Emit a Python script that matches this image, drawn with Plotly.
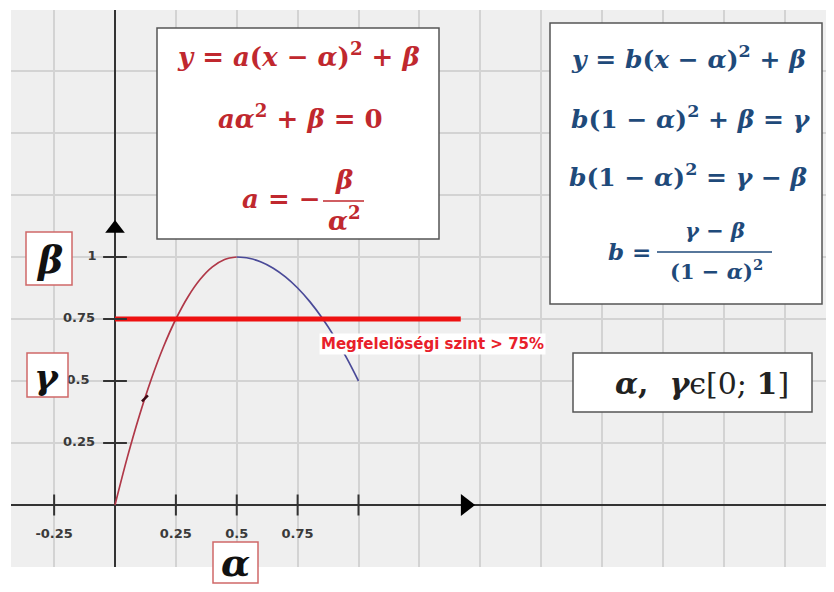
import plotly.graph_objects as go

# parabola data (vertex alpha, beta; end value gamma at x = 1)
alpha = 0.5
beta = 1
gamma = 0.5
threshold = 0.75

# left branch: y = a(x - alpha)^2 + beta through the origin
red_x = [0, 0.05, 0.1, 0.15, 0.2, 0.25, 0.3, 0.35, 0.4, 0.45, 0.5]
red_y = [0, 0.19, 0.36, 0.51, 0.64, 0.75, 0.84, 0.91, 0.96, 0.99, 1.0]

# right branch: y = b(x - alpha)^2 + beta ending at (1, gamma)
blue_x = [0.5, 0.55, 0.6, 0.65, 0.7, 0.75, 0.8, 0.85, 0.9, 0.95, 1.0]
blue_y = [1.0, 0.995, 0.98, 0.955, 0.92, 0.875, 0.82, 0.755, 0.68, 0.595, 0.5]

# threshold line
level_x = [0, 1.42]
level_y = [threshold, threshold]

x_ticks = [-0.25, 0.25, 0.5, 0.75, 1]
x_tick_labels = ['-0.25', '0.25', '0.5', '0.75', '']
y_ticks = [0.25, 0.5, 0.75, 1]
y_tick_labels = ['0.25', '0.5', '0.75', '1']

# the page body has an 8px margin, so the figure is drawn 8px smaller
OFF = 8
W, H = 834 - OFF, 592 - 2 * OFF
L, T = 11 - OFF, 10 - OFF
B = H - (567 - OFF)


def px(p):
    return (p - OFF - L) / (W - L)


def py(p):
    return (H - B - (p - OFF)) / (H - B - T)


serif = 'DejaVu Serif'
red_txt = '#c0282e'
blue_txt = '#1f4a7a'

fig = go.Figure()

fig.add_trace(go.Scatter(x=red_x, y=red_y, mode='lines', line_shape='spline',
                         line=dict(color='#b03848', width=1.7)))
fig.add_trace(go.Scatter(x=blue_x, y=blue_y, mode='lines', line_shape='spline',
                         line=dict(color='#4a4a98', width=1.7)))
fig.add_trace(go.Scatter(x=level_x, y=level_y, mode='lines',
                         line=dict(color='#ee1111', width=5)))
# small mark on the red branch
fig.add_trace(go.Scatter(x=[0.123], y=[0.43], mode='markers',
                         marker=dict(symbol='line-ne', size=6,
                                     line=dict(color='#3a0a14', width=2.5))))

# axis ticks
fig.add_trace(go.Scatter(x=x_ticks, y=[0] * len(x_ticks), mode='markers',
                         marker=dict(symbol='line-ns', size=15,
                                     line=dict(color='#333', width=2))))
fig.add_trace(go.Scatter(x=[0] * len(y_ticks), y=y_ticks, mode='markers',
                         marker=dict(symbol='line-ew', size=17,
                                     line=dict(color='#333', width=2))))
# arrow heads
fig.add_trace(go.Scatter(x=[0], y=[1.115], mode='markers',
                         marker=dict(symbol='triangle-up', size=17, color='black')))
fig.add_trace(go.Scatter(x=[1.44], y=[0], mode='markers',
                         marker=dict(symbol='triangle-right', size=19, color='black')))

# tick labels
fig.add_trace(go.Scatter(x=x_ticks, y=[-0.12] * len(x_ticks), mode='text',
                         text=x_tick_labels, textposition='middle center',
                         textfont=dict(family='DejaVu Sans', size=13, color='#3a3a3a', weight='bold')))
fig.add_trace(go.Scatter(x=[-0.148, -0.152, -0.148, -0.094], y=y_ticks, mode='text',
                         text=y_tick_labels, textposition='middle center',
                         textfont=dict(family='DejaVu Sans', size=13, color='#3a3a3a', weight='bold')))

shapes = []


def box(x0, y0, x1, y1, color, width=1.5):
    shapes.append(dict(type='rect', xref='paper', yref='paper',
                       x0=px(x0), x1=px(x1), y0=py(y1), y1=py(y0),
                       fillcolor='white', line=dict(color=color, width=width)))


def bar(x0, x1, y, color):
    shapes.append(dict(type='line', xref='paper', yref='paper',
                       x0=px(x0), x1=px(x1), y0=py(y), y1=py(y),
                       line=dict(color=color, width=1.5)))


box(157, 28, 439, 239, '#555')
box(550, 23, 822, 304, '#555')
box(573, 353, 812, 412, '#555')
box(26, 232, 72, 285, '#d06868')
box(27, 353, 68, 397, '#d06868')
box(213, 542, 258, 583, '#d06868')
bar(323, 364, 201, red_txt)
bar(657, 772, 252, blue_txt)

annotations = []


def txt(s, x, y, size, color, family=serif, bg=None):
    a = dict(text=s, xref='paper', yref='paper', x=px(x), y=py(y),
             xanchor='center', yanchor='middle', showarrow=False,
             font=dict(family=family, size=size, color=color))
    if bg:
        a['bgcolor'] = bg
    annotations.append(a)


txt('<b><i>y</i> = <i>a</i>(<i>x</i> − <i>α</i>)<sup>2</sup> + <i>β</i></b>', 298, 55, 26, red_txt)
txt('<b><i>aα</i><sup>2</sup> + <i>β</i> = 0</b>', 300, 117, 26, red_txt)
txt('<b><i>a</i> = −</b>', 281, 199, 26, red_txt)
txt('<b><i>β</i></b>', 344, 180, 26, red_txt)
txt('<b><i>α</i><sup>2</sup></b>', 344, 219, 26, red_txt)

txt('<b><i>y</i> = <i>b</i>(<i>x</i> − <i>α</i>)<sup>2</sup> + <i>β</i></b>', 688, 57, 25, blue_txt)
txt('<b><i>b</i>(1 − <i>α</i>)<sup>2</sup> + <i>β</i> = <i>γ</i></b>', 691, 118, 25, blue_txt)
txt('<b><i>b</i>(1 − <i>α</i>)<sup>2</sup> = <i>γ</i> − <i>β</i></b>', 688, 175, 25, blue_txt)
txt('<b><i>b</i> =</b>', 629, 251, 23, blue_txt)
txt('<b><i>γ</i> − <i>β</i></b>', 715, 230, 21, blue_txt)
txt('<b>(1 − <i>α</i>)<sup>2</sup></b>', 716, 270, 21, blue_txt)

txt('<b><i>α</i>,\u00a0\u00a0<i>γ</i></b>ϵ[0; <b>1</b>]', 702, 383, 30, '#222')

txt('<b><i>β</i></b>', 49, 259, 38, '#111')
txt('<b><i>γ</i></b>', 47, 376, 36, '#111')
txt('<b><i>α</i></b>', 235, 562, 38, '#111')

txt('<b>Megfelelöségi szint &gt; 75%</b>', 432, 344, 15, '#e8202a', family='DejaVu Sans', bg='white')

grid = dict(showgrid=True, gridcolor='#d3d3d3', gridwidth=1.5, dtick=0.25, tick0=0,
            zeroline=True, zerolinecolor='#333', zerolinewidth=2,
            showticklabels=False, ticks='', showline=False, fixedrange=True)

fig.update_layout(
    width=W, height=H,
    margin=dict(l=L, r=0, t=T, b=B),
    paper_bgcolor='white', plot_bgcolor='#efefef',
    showlegend=False,
    xaxis=dict(range=[(11 - 115) / 243.5, (834 - 115) / 243.5], **grid),
    yaxis=dict(range=[-0.25, (505 - 10) / 248], **grid),
    shapes=shapes, annotations=annotations,
)

fig.write_html('out.html')
